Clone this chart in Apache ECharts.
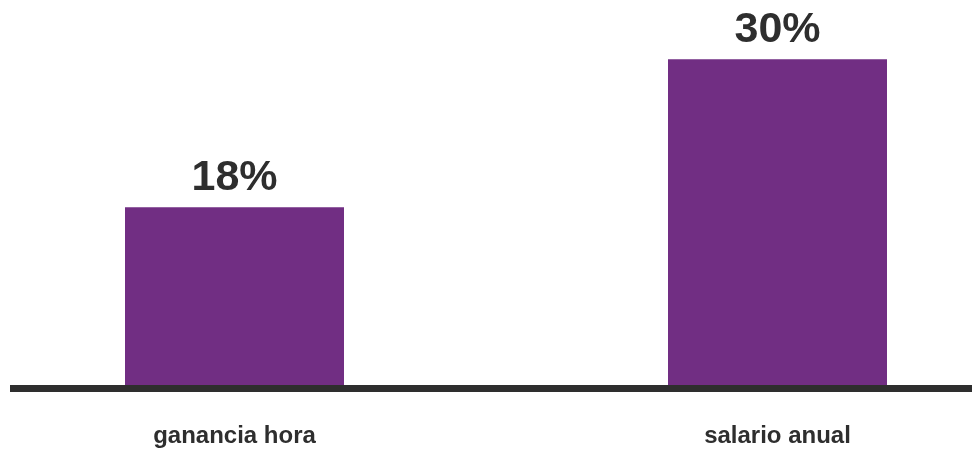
<!DOCTYPE html>
<html>
<head>
<meta charset="utf-8">
<script src="https://cdn.jsdelivr.net/npm/echarts@6/dist/echarts.min.js"></script>
<style>
  html, body { margin: 0; padding: 0; background: #fff; }
  #chart { width: 972px; height: 470px; }
</style>
</head>
<body>
<div id="chart"></div>
<script>
const categories = ['ganancia hora', 'salario anual']
const values = [18, 30]
const valueLabels = ['18%', '30%']

const barColor = '#712e83'
const textColor = '#2e2e2e'

const chart = echarts.init(document.getElementById('chart'))
chart.setOption({
  animation: false,
  grid: [
    // bars (grid wider than canvas so the two bands land where they are)
    { left: -37, right: -77, top: 10, bottom: 85, outerBoundsMode: 'none' },
    // baseline only
    { left: 10, right: 0, top: 10, bottom: 81.5, outerBoundsMode: 'none' }
  ],
  xAxis: [
    {
      type: 'category',
      gridIndex: 0,
      data: categories,
      axisLine: { show: false },
      axisTick: { show: false },
      axisLabel: {
        margin: 39,
        color: textColor,
        fontFamily: 'Liberation Sans',
        fontWeight: 'bold',
        fontSize: 24
      }
    },
    {
      type: 'value',
      gridIndex: 1,
      axisLine: { show: true, lineStyle: { color: textColor, width: 7, cap: 'butt' } },
      axisTick: { show: false },
      axisLabel: { show: false },
      splitLine: { show: false }
    }
  ],
  yAxis: [
    {
      type: 'value',
      gridIndex: 0,
      min: 3.6,
      max: 34,
      show: false
    },
    {
      type: 'value',
      gridIndex: 1,
      show: false
    }
  ],
  series: [
    {
      type: 'bar',
      xAxisIndex: 0,
      yAxisIndex: 0,
      data: values,
      barWidth: 219,
      itemStyle: { color: barColor },
      label: {
        show: true,
        position: 'top',
        distance: 8,
        color: textColor,
        fontFamily: 'Liberation Sans',
        fontWeight: 'bold',
        fontSize: 43,
        formatter: p => valueLabels[p.dataIndex]
      }
    }
  ]
})
</script>
</body>
</html>
